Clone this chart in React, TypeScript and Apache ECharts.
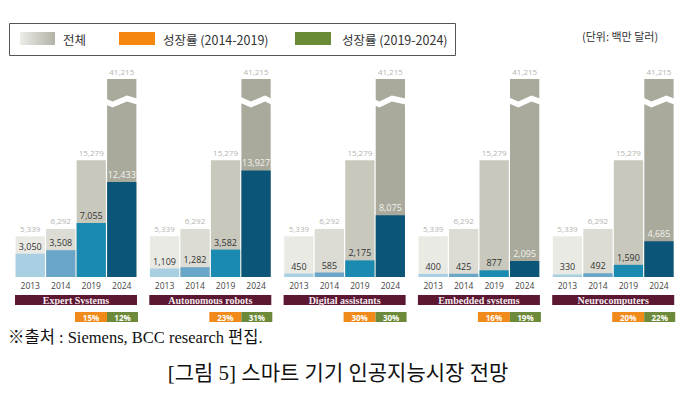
import React, { useEffect, useRef } from 'react';
import * as echarts from 'echarts';

const years = ['2013', '2014', '2019', '2024'];
const totals = [5339, 6292, 15279, 41215];
const panelNames = ['Expert Systems', 'Autonomous robots', 'Digital assistants', 'Embedded systems', 'Neurocomputers'];
const expertSystems = [3050, 3508, 7055, 12433];
const autonomousRobots = [1109, 1282, 3582, 13927];
const digitalAssistants = [450, 585, 2175, 8075];
const embeddedSystems = [400, 425, 877, 2095];
const neurocomputers = [330, 492, 1590, 4685];
const panelValues = [expertSystems, autonomousRobots, digitalAssistants, embeddedSystems, neurocomputers];
const growth2014to2019 = ['15%', '23%', '30%', '16%', '20%'];
const growth2019to2024 = ['12%', '31%', '30%', '19%', '22%'];
const legendLabels = ['전체', '성장률 (2014-2019)', '성장률 (2019-2024)'];
const unitText = '(단위: 백만 달러)';
const sourceText = '※출처 : Siemens, BCC research 편집.';
const captionText = '[그림 5] 스마트 기기 인공지능시장 전망';

const greyColors = ['#eaeae5', '#dcdcd4', '#c8c8bd', '#a9aa9c'];
const blueColors = ['#a9cfe2', '#6aa6c8', '#1a8ab0', '#0b5678'];
const blueLabelColors = ['#333', '#333', '#333', '#f2f2ee'];

const SANS = '"Open Sans", "Noto Sans CJK KR", sans-serif';
const SERIF = '"Liberation Serif", "DejaVu Serif", "Noto Sans CJK KR", serif';

const PANEL_LEFT = 15;
const PANEL_STEP = 134.3;
const PANEL_W = 122;
const GRID_TOP = 79;
const GRID_H = 198;

const fmt = (v: number) => v.toLocaleString('en-US');

export default function App() {
  const ref = useRef<HTMLDivElement>(null);
  useEffect(() => {
    if (!ref.current) return;
    const chart = echarts.init(ref.current, null, { renderer: 'svg' });
    const grids: any[] = [];
    const xAxes: any[] = [];
    const yAxes: any[] = [];
    const series: any[] = [];
    const graphics: any[] = [];

    panelNames.forEach((name, i) => {
      const left = PANEL_LEFT + i * PANEL_STEP;
      grids.push({ left, top: GRID_TOP, width: PANEL_W, height: GRID_H });
      xAxes.push({
        type: 'category',
        gridIndex: i,
        data: years,
        axisLine: { show: false },
        axisTick: { show: false },
        axisLabel: { color: '#444', fontSize: 8.5, margin: 4, fontFamily: SANS },
      });
      yAxes.push({
        type: 'value',
        gridIndex: i,
        min: 0,
        max: 41215,
        axisLine: { show: false },
        axisTick: { show: false },
        axisLabel: { show: false },
        splitLine: { show: false },
        breaks: [{ start: 22600, end: 38700, gap: '3%' }],
        breakArea: {
          show: true,
          itemStyle: { color: '#fff', borderWidth: 0, opacity: 1 },
          zigzagAmplitude: 3,
          zigzagMinSpan: 12,
          zigzagMaxSpan: 16,
          zigzagZ: 100,
          expandOnClick: false,
        },
      });
      series.push({
        type: 'bar',
        name: legendLabels[0],
        xAxisIndex: i,
        yAxisIndex: i,
        barGap: '-100%',
        barCategoryGap: '4%',
        silent: true,
        data: totals.map((v, k) => ({ value: v, itemStyle: { color: greyColors[k] } })),
        label: {
          show: true,
          position: 'top',
          distance: 4,
          color: '#b4b4ae',
          fontSize: 8,
          fontFamily: SANS,
          formatter: (p: any) => fmt(p.value),
        },
      });
      series.push({
        type: 'bar',
        name: name,
        xAxisIndex: i,
        yAxisIndex: i,
        barGap: '-100%',
        barCategoryGap: '4%',
        silent: true,
        data: panelValues[i].map((v, k) => ({
          value: v,
          itemStyle: { color: blueColors[k] },
          label: { color: blueLabelColors[k] },
        })),
        label: {
          show: true,
          position: 'top',
          distance: 3,
          fontSize: 9,
          fontFamily: SANS,
          formatter: (p: any) => fmt(p.value),
        },
      });

      graphics.push({
        type: 'rect',
        shape: { x: left, y: 295, width: PANEL_W, height: 10 },
        style: { fill: '#5c1733' },
      });
      graphics.push({
        type: 'text',
        x: left + PANEL_W / 2,
        y: 300,
        style: {
          text: name,
          fill: '#f4eaee',
          fontSize: 10,
          fontWeight: 'bold',
          fontFamily: SERIF,
          align: 'center',
          verticalAlign: 'middle',
        },
      });
      graphics.push({
        type: 'rect',
        shape: { x: left + 60, y: 312, width: 32, height: 10 },
        style: { fill: '#f08a1a' },
      });
      graphics.push({
        type: 'text',
        x: left + 76,
        y: 317,
        style: {
          text: growth2014to2019[i],
          fill: '#fff',
          fontSize: 8,
          fontWeight: 'bold',
          fontFamily: SANS,
          align: 'center',
          verticalAlign: 'middle',
        },
      });
      graphics.push({
        type: 'rect',
        shape: { x: left + 92, y: 312, width: 31, height: 10 },
        style: { fill: '#6d8a3a' },
      });
      graphics.push({
        type: 'text',
        x: left + 107.5,
        y: 317,
        style: {
          text: growth2019to2024[i],
          fill: '#fff',
          fontSize: 8,
          fontWeight: 'bold',
          fontFamily: SANS,
          align: 'center',
          verticalAlign: 'middle',
        },
      });
    });

    // legend
    graphics.push({
      type: 'rect',
      shape: { x: 9.5, y: 23.5, width: 446, height: 32 },
      style: { fill: '#fff', stroke: '#555', lineWidth: 1 },
    });
    graphics.push({
      type: 'rect',
      shape: { x: 20, y: 32, width: 35, height: 13 },
      style: {
        fill: new echarts.graphic.LinearGradient(0, 0, 1, 0, [
          { offset: 0, color: '#ecece8' },
          { offset: 1, color: '#b2b2a6' },
        ]),
      },
    });
    const legendSwatches = [null, '#f5870f', '#6b8a35'];
    const legendSwatchX = [20, 119, 295];
    const legendTextX = [63, 163, 342];
    legendLabels.forEach((t, k) => {
      if (legendSwatches[k]) {
        graphics.push({
          type: 'rect',
          shape: { x: legendSwatchX[k], y: 32, width: 36, height: 13 },
          style: { fill: legendSwatches[k] },
        });
      }
      graphics.push({
        type: 'text',
        x: legendTextX[k],
        y: 39.5,
        style: {
          text: t,
          fill: '#333',
          fontSize: 12.5,
          fontFamily: '"Noto Sans CJK KR", sans-serif',
          verticalAlign: 'middle',
        },
      });
    });
    graphics.push({
      type: 'text',
      x: 582,
      y: 36,
      style: {
        text: unitText,
        fill: '#333',
        fontSize: 11,
        fontFamily: '"Noto Sans CJK KR", sans-serif',
        verticalAlign: 'middle',
      },
    });
    graphics.push({
      type: 'text',
      x: 8,
      y: 337,
      style: {
        text: sourceText,
        fill: '#111',
        fontSize: 16.5,
        fontFamily: SERIF,
        verticalAlign: 'middle',
      },
    });
    graphics.push({
      type: 'text',
      x: 338,
      y: 373,
      style: {
        text: captionText,
        fill: '#111',
        fontSize: 21,
        fontFamily: SERIF,
        align: 'center',
        verticalAlign: 'middle',
      },
    });

    chart.setOption({
      animation: false,
      backgroundColor: '#fff',
      grid: grids,
      xAxis: xAxes,
      yAxis: yAxes,
      series,
      graphic: { elements: graphics },
    });
    return () => chart.dispose();
  }, []);
  return (
    <div
      ref={ref}
      style={{ position: 'fixed', left: 0, top: 0, width: 684, height: 398, background: '#fff' }}
    />
  );
}
